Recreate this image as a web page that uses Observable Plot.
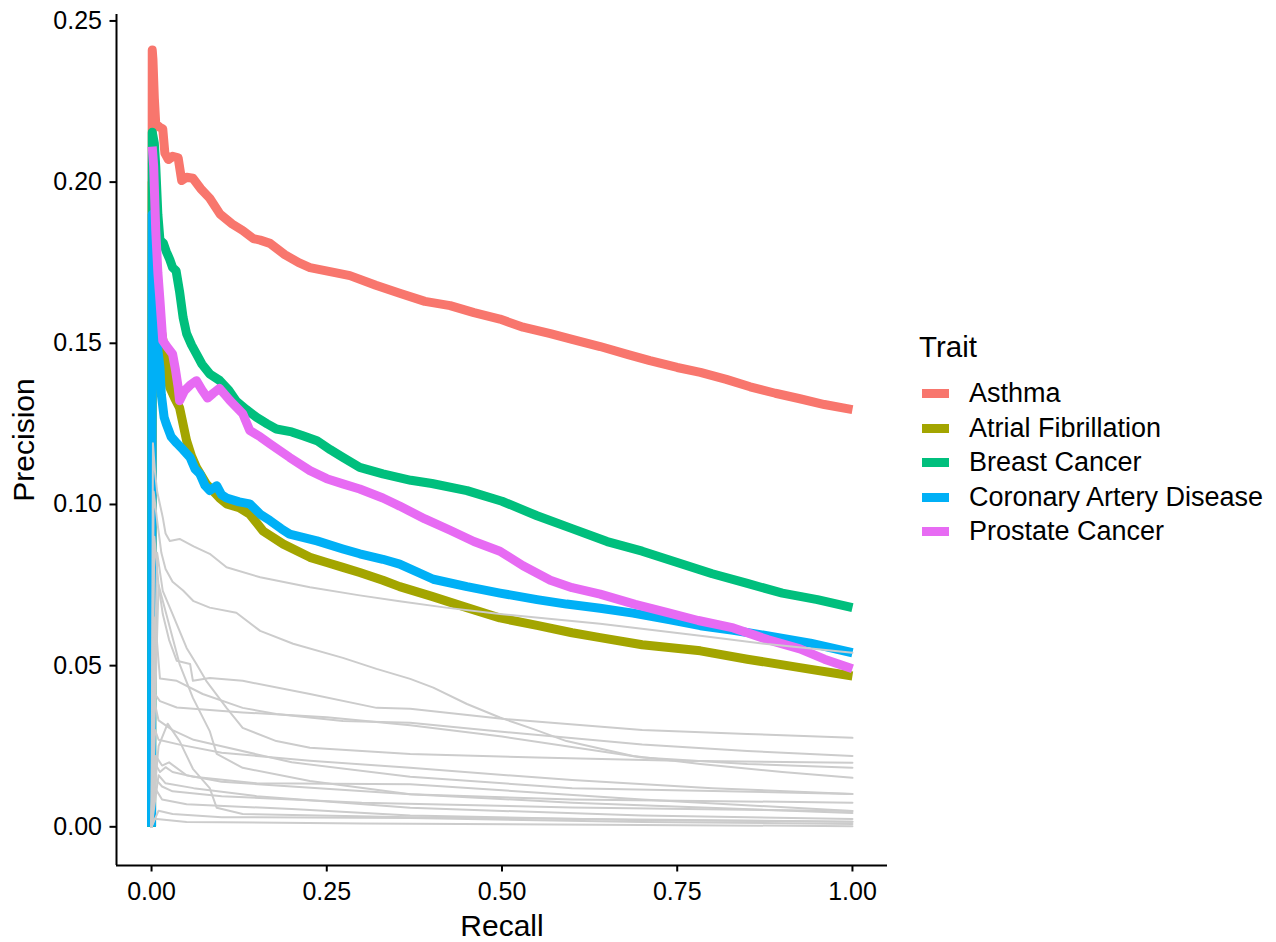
<!DOCTYPE html>
<html>
<head>
<meta charset="utf-8">
<script src="https://cdn.jsdelivr.net/npm/d3@7"></script>
<script src="https://cdn.jsdelivr.net/npm/@observablehq/plot@0.6"></script>
<style>
  html, body { margin: 0; padding: 0; background: #ffffff; }
  #chart { position: relative; width: 1276px; height: 942px; font-family: "Liberation Sans", Arial, Helvetica, sans-serif; }
  #legend { position: absolute; left: 919px; top: 0; color: #000; }
  #legend .title { position: absolute; left: 0; top: 332px; font-size: 29.5px; line-height: 1; white-space: nowrap; }
  #legend .row { position: absolute; left: 0; height: 34.4px; display: flex; align-items: center; white-space: nowrap; font-size: 27px; line-height: 1; }
  #legend .key { width: 27px; height: 9px; margin-left: 3px; margin-right: 20px; }
</style>
</head>
<body>
<div id="chart"></div>
<script>
// Traits and their colours
const traits = ["Asthma", "Atrial Fibrillation", "Breast Cancer", "Coronary Artery Disease", "Prostate Cancer"];
const traitColors = ["#F8766D", "#A3A500", "#00BF7D", "#00B0F6", "#E76BF3"];

// Precision-recall curves, [recall, precision]
const asthma = [[0,0],[0.001,0.241],[0.002,0.238],[0.004,0.226],[0.006,0.218],[0.012,0.217],[0.016,0.2165],[0.019,0.209],[0.024,0.207],[0.03,0.208],[0.038,0.2075],[0.043,0.2005],[0.05,0.2015],[0.059,0.2012],[0.07,0.198],[0.083,0.195],[0.098,0.19],[0.115,0.187],[0.13,0.185],[0.145,0.1825],[0.155,0.182],[0.169,0.181],[0.19,0.1775],[0.21,0.175],[0.226,0.1735],[0.26,0.172],[0.283,0.171],[0.32,0.168],[0.354,0.1655],[0.39,0.163],[0.426,0.1617],[0.46,0.1595],[0.497,0.1575],[0.53,0.155],[0.569,0.153],[0.6,0.1512],[0.64,0.149],[0.68,0.1465],[0.711,0.1446],[0.75,0.1425],[0.783,0.141],[0.82,0.1388],[0.854,0.1365],[0.89,0.1345],[0.925,0.1328],[0.96,0.131],[1,0.1294]];
const atrialFibrillation = [[0,0],[0.001,0.2],[0.004,0.185],[0.008,0.168],[0.013,0.155],[0.019,0.1477],[0.026,0.1363],[0.033,0.133],[0.04,0.13],[0.05,0.1198],[0.057,0.115],[0.064,0.1115],[0.078,0.1064],[0.097,0.102],[0.107,0.1002],[0.125,0.099],[0.14,0.097],[0.159,0.0918],[0.188,0.0877],[0.226,0.0836],[0.25,0.082],[0.273,0.0805],[0.297,0.0789],[0.33,0.0765],[0.354,0.0745],[0.4,0.0715],[0.45,0.068],[0.497,0.0648],[0.55,0.0625],[0.6,0.0602],[0.64,0.0587],[0.7,0.0565],[0.783,0.0546],[0.85,0.052],[0.925,0.0494],[1,0.0468]];
const breastCancer = [[0,0],[0.001,0.2155],[0.004,0.212],[0.006,0.205],[0.009,0.19],[0.012,0.182],[0.017,0.181],[0.021,0.1785],[0.026,0.176],[0.03,0.1735],[0.035,0.1725],[0.04,0.166],[0.045,0.158],[0.05,0.153],[0.057,0.1495],[0.064,0.1467],[0.072,0.1435],[0.083,0.1405],[0.097,0.1385],[0.11,0.1355],[0.121,0.132],[0.135,0.1295],[0.15,0.127],[0.165,0.125],[0.178,0.1234],[0.2,0.1225],[0.216,0.1213],[0.236,0.1198],[0.255,0.117],[0.273,0.1146],[0.297,0.1115],[0.33,0.1095],[0.37,0.1075],[0.4,0.1065],[0.45,0.1043],[0.5,0.101],[0.55,0.0965],[0.6,0.0925],[0.65,0.0885],[0.7,0.0855],[0.75,0.082],[0.8,0.0785],[0.85,0.0755],[0.9,0.0725],[0.95,0.0705],[1,0.068]];
const coronaryArteryDisease = [[0,0],[0.001,0.19],[0.003,0.172],[0.006,0.158],[0.009,0.148],[0.012,0.1425],[0.014,0.134],[0.018,0.127],[0.021,0.125],[0.028,0.121],[0.036,0.119],[0.045,0.117],[0.055,0.1146],[0.062,0.111],[0.069,0.1095],[0.076,0.106],[0.083,0.1043],[0.093,0.1058],[0.1,0.103],[0.107,0.102],[0.125,0.1008],[0.14,0.1002],[0.155,0.097],[0.169,0.095],[0.185,0.0925],[0.197,0.0908],[0.236,0.0887],[0.273,0.0862],[0.297,0.0847],[0.33,0.083],[0.354,0.0815],[0.402,0.0768],[0.45,0.0745],[0.497,0.0725],[0.55,0.0705],[0.592,0.0691],[0.64,0.0678],[0.687,0.0663],[0.74,0.0642],[0.783,0.0624],[0.83,0.061],[0.878,0.0593],[0.94,0.057],[1,0.054]];
const prostateCancer = [[0.001,0.211],[0.003,0.205],[0.006,0.185],[0.009,0.172],[0.012,0.1633],[0.016,0.1508],[0.022,0.149],[0.03,0.1467],[0.034,0.142],[0.038,0.1363],[0.04,0.1322],[0.047,0.1353],[0.055,0.137],[0.064,0.1384],[0.072,0.1355],[0.08,0.133],[0.088,0.1345],[0.097,0.136],[0.105,0.134],[0.112,0.1322],[0.13,0.1282],[0.14,0.123],[0.155,0.121],[0.169,0.1188],[0.197,0.1146],[0.226,0.1105],[0.25,0.108],[0.273,0.1064],[0.297,0.1048],[0.33,0.102],[0.354,0.0995],[0.39,0.0955],[0.426,0.092],[0.46,0.0885],[0.497,0.0855],[0.53,0.081],[0.569,0.0765],[0.6,0.0742],[0.64,0.0722],[0.69,0.069],[0.735,0.0665],[0.78,0.064],[0.83,0.0617],[0.88,0.058],[0.925,0.0552],[0.96,0.052],[1,0.049]];

// Curves of the remaining traits, drawn in grey
const otherCurves = [
  [[0,0],[0.002,0.119],[0.005,0.11],[0.008,0.104],[0.012,0.1],[0.016,0.096],[0.02,0.091],[0.026,0.0887],[0.04,0.0893],[0.06,0.087],[0.083,0.0847],[0.107,0.0805],[0.155,0.0774],[0.226,0.0743],[0.297,0.0718],[0.354,0.07],[0.42,0.068],[0.497,0.066],[0.64,0.063],[0.783,0.0593],[0.878,0.0567],[1,0.054]],
  [[0,0],[0.003,0.104],[0.008,0.095],[0.014,0.085],[0.02,0.08],[0.03,0.076],[0.045,0.0733],[0.06,0.07],[0.083,0.068],[0.121,0.0664],[0.155,0.0608],[0.202,0.0568],[0.273,0.0524],[0.321,0.049],[0.369,0.0459],[0.402,0.0432],[0.45,0.0381],[0.497,0.0339],[0.545,0.0303],[0.592,0.0266],[0.687,0.022],[0.783,0.0195],[0.9,0.017],[1,0.0152]],
  [[0,0],[0.004,0.09],[0.01,0.075],[0.016,0.066],[0.025,0.058],[0.036,0.0515],[0.055,0.0505],[0.059,0.0453],[0.083,0.0462],[0.13,0.0453],[0.226,0.0412],[0.321,0.0369],[0.369,0.0366],[0.5,0.0335],[0.7,0.03],[0.85,0.0288],[1,0.0276]],
  [[0,0],[0.005,0.065],[0.012,0.046],[0.036,0.0453],[0.073,0.0412],[0.13,0.0369],[0.178,0.035],[0.273,0.0328],[0.369,0.0323],[0.5,0.0295],[0.7,0.0255],[0.85,0.0235],[1,0.022]],
  [[0,0],[0.008,0.085],[0.016,0.0732],[0.03,0.066],[0.05,0.0555],[0.064,0.0505],[0.078,0.0453],[0.107,0.0369],[0.13,0.0307],[0.178,0.0266],[0.226,0.0245],[0.369,0.0226],[0.55,0.0215],[0.75,0.0205],[1,0.0199]],
  [[0,0],[0.01,0.075],[0.021,0.066],[0.04,0.0505],[0.059,0.04],[0.083,0.0297],[0.093,0.0226],[0.13,0.0183],[0.226,0.0142],[0.369,0.0101],[0.6,0.0085],[1,0.0075]],
  [[0,0],[0.003,0.0417],[0.012,0.039],[0.036,0.037],[0.13,0.0355],[0.25,0.034],[0.369,0.0315],[0.5,0.028],[0.7,0.0215],[0.85,0.0195],[1,0.0183]],
  [[0,0],[0.005,0.03],[0.01,0.027],[0.04,0.0255],[0.1,0.023],[0.226,0.0205],[0.369,0.0183],[0.6,0.0145],[0.8,0.012],[1,0.0102]],
  [[0,0],[0.004,0.02],[0.012,0.017],[0.02,0.0185],[0.03,0.017],[0.06,0.0155],[0.15,0.0135],[0.369,0.0132],[0.7,0.0085],[1,0.0049]],
  [[0,0],[0.006,0.022],[0.015,0.019],[0.025,0.02],[0.05,0.016],[0.1,0.014],[0.2,0.0125],[0.369,0.0101],[0.6,0.0075],[1,0.0043]],
  [[0,0],[0.01,0.016],[0.02,0.0135],[0.06,0.012],[0.15,0.0095],[0.369,0.0059],[0.7,0.0035],[1,0.0024]],
  [[0,0],[0.005,0.012],[0.015,0.0085],[0.05,0.007],[0.2,0.0055],[0.369,0.0035],[0.7,0.002],[1,0.0016]],
  [[0,0],[0.01,0.005],[0.03,0.004],[0.1,0.003],[0.369,0.0027],[0.7,0.0015],[1,0.0009]],
  [[0,0],[0.004,0.0025],[0.05,0.0015],[0.3,0.001],[0.7,0.0006],[1,0.0002]],
  [[0,0],[0.003,0.04],[0.01,0.033],[0.03,0.03],[0.06,0.027],[0.1,0.025],[0.2,0.02],[0.369,0.0155],[0.6,0.012],[1,0.0102]],
  [[0,0],[0.01,0.025],[0.023,0.032],[0.04,0.0266],[0.059,0.018],[0.083,0.012],[0.093,0.0059],[0.13,0.004],[0.369,0.003],[1,0.0016]],
  [[0,0],[0.002,0.025],[0.005,0.015],[0.015,0.0125],[0.03,0.011],[0.1,0.0095],[0.3,0.0075],[0.6,0.006],[1,0.0049]]
];

// Axis ticks and extents
const xTicks = [0, 0.25, 0.5, 0.75, 1];
const yTicks = [0, 0.05, 0.1, 0.15, 0.2, 0.25];
const xDomain = [-0.05, 1.05];
const yDomain = [-0.012, 0.252];

const traitCurves = [asthma, atrialFibrillation, breastCancer, coronaryArteryDisease, prostateCancer];
const traitRows = traits.flatMap((trait, i) =>
  traitCurves[i].map(([recall, precision]) => ({trait, recall, precision})));
const otherRows = otherCurves.flatMap((curve, i) =>
  curve.map(([recall, precision]) => ({curve: i, recall, precision})));

const fmt = d3.format(".2f");
const font = "'Liberation Sans', Arial, Helvetica, sans-serif";

const chart = Plot.plot({
  width: 1276,
  height: 942,
  marginLeft: 116,
  marginRight: 389,
  marginTop: 14,
  marginBottom: 77,
  style: {fontFamily: font, background: "#ffffff", color: "#000000", overflow: "visible"},
  x: {domain: xDomain},
  y: {domain: yDomain},
  color: {domain: traits, range: traitColors},
  marks: [
    Plot.line(traitRows, {x: "recall", y: "precision", z: "trait", stroke: "trait",
      strokeWidth: 9, strokeLinejoin: "round", strokeLinecap: "butt"}),
    Plot.line(otherRows, {x: "recall", y: "precision", z: "curve", stroke: "#CCCCCC",
      strokeWidth: 2, strokeLinejoin: "round"}),
    Plot.ruleX([xDomain[0]], {stroke: "#000000", strokeWidth: 2}),
    Plot.ruleY([yDomain[0]], {stroke: "#000000", strokeWidth: 2}),
    Plot.axisX({ticks: xTicks, tickFormat: fmt, tickSize: 6.5, tickPadding: 10, fontSize: 25,
      strokeWidth: 2, stroke: "#000000", fill: "#000000", label: null}),
    Plot.axisY({ticks: yTicks, tickFormat: fmt, tickSize: 6.5, tickPadding: 8, fontSize: 25,
      strokeWidth: 2, stroke: "#000000", fill: "#000000", label: null}),
    Plot.text(["Recall"], {frameAnchor: "bottom", dy: 70, lineAnchor: "bottom",
      fontSize: 30, fill: "#000000"}),
    Plot.text(["Precision"], {frameAnchor: "left", dx: -83, rotate: -90, lineAnchor: "bottom",
      textAnchor: "middle", fontSize: 30, fill: "#000000"})
  ]
});

const root = document.getElementById("chart");
root.appendChild(chart);

// Legend for the highlighted traits
const legend = document.createElement("div");
legend.id = "legend";
const title = document.createElement("div");
title.className = "title";
title.textContent = "Trait";
legend.appendChild(title);
traits.forEach((trait, i) => {
  const row = document.createElement("div");
  row.className = "row";
  row.style.top = (376.8 + i * 34.4) + "px";
  const key = document.createElement("span");
  key.className = "key";
  key.style.background = traitColors[i];
  const label = document.createElement("span");
  label.textContent = trait;
  row.appendChild(key);
  row.appendChild(label);
  legend.appendChild(row);
});
root.appendChild(legend);
</script>
</body>
</html>
